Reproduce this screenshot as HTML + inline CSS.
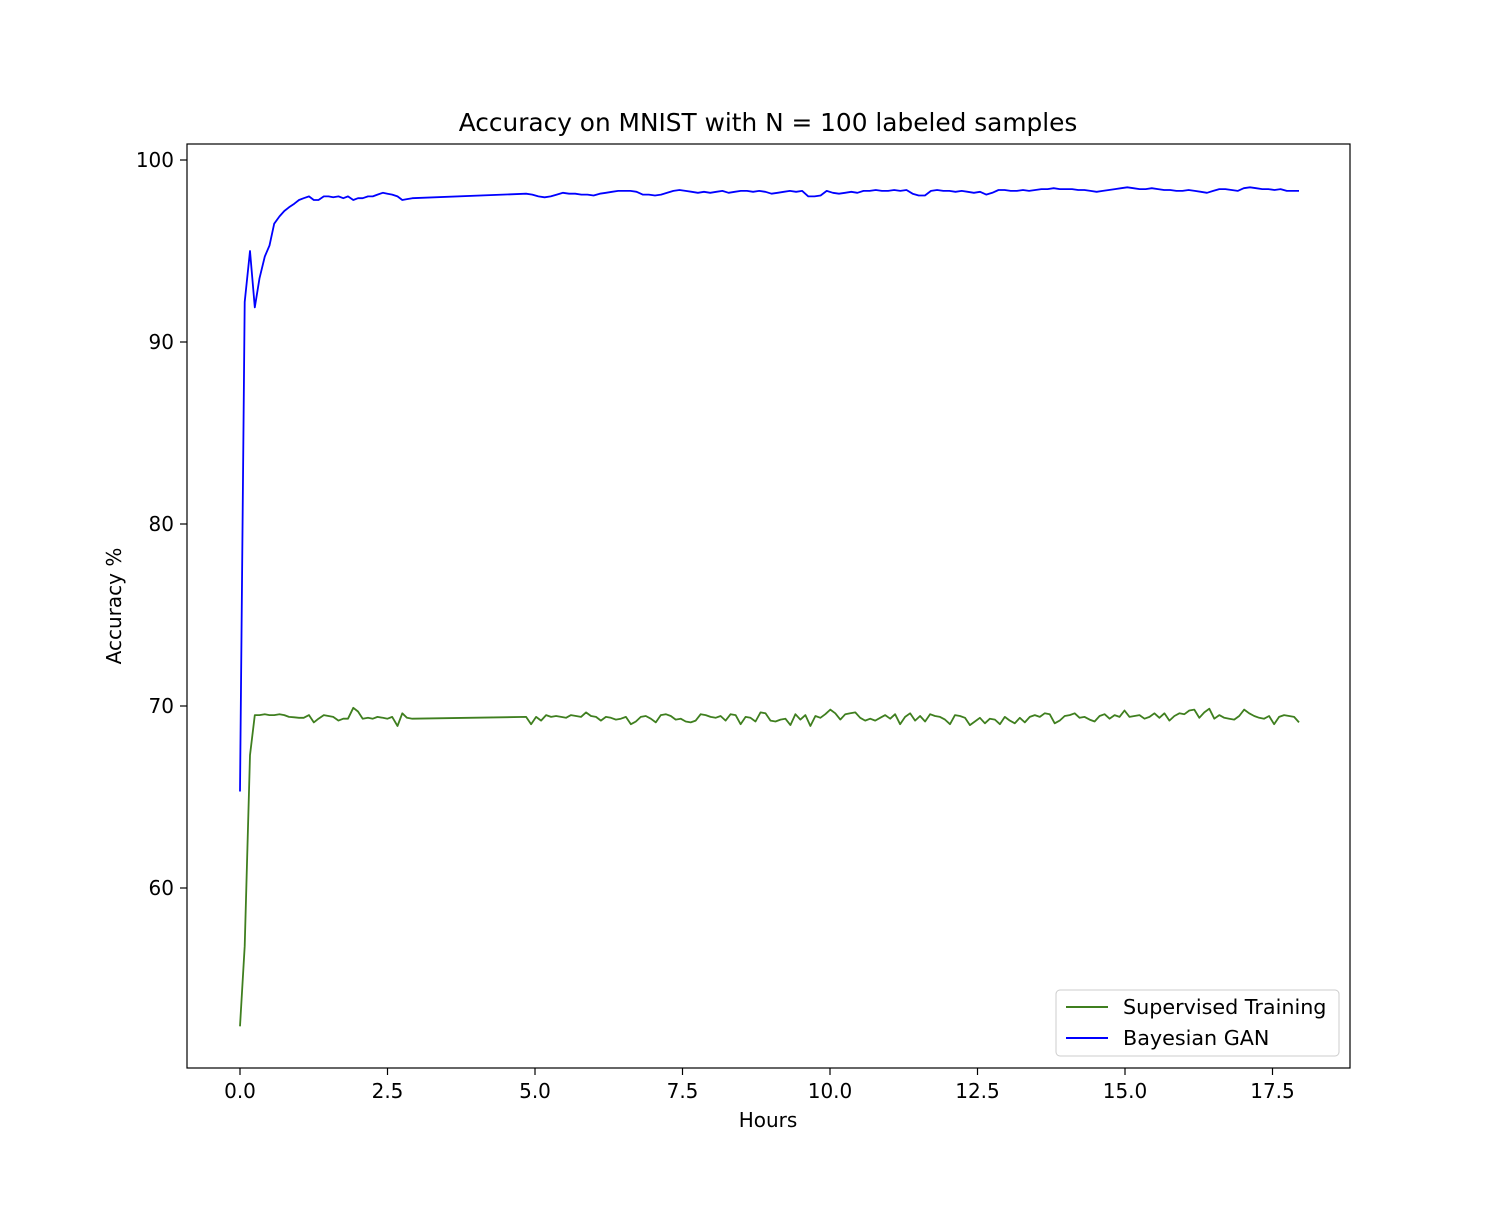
<!DOCTYPE html>
<html><head><meta charset="utf-8"><style>
body{margin:0;background:#fff}
svg text{font-family:"DejaVu Sans","Liberation Sans",sans-serif;fill:#000}
</style></head><body>
<svg id="chart" width="1500" height="1200" xmlns="http://www.w3.org/2000/svg">
<rect width="1500" height="1200" fill="#fff"/>
<text x="768" y="131" font-size="24.8" text-anchor="middle">Accuracy on MNIST with N = 100 labeled samples</text>
<g id="xt"></g>
<g id="yt"></g>
<text x="768" y="1127" font-size="20" text-anchor="middle">Hours</text>
<text transform="translate(121,606) rotate(-90)" font-size="20" text-anchor="middle">Accuracy %</text>
<g id="series"></g>
<rect x="187" y="144" width="1163" height="924" fill="none" stroke="#000" stroke-width="1.2"/>
<g>
<rect x="1056" y="990" width="283" height="66" rx="4" fill="#fff" fill-opacity="0.8" stroke="#ccc"/>
<line x1="1066" x2="1108" y1="1007" y2="1007" stroke="#3f7f1f" stroke-width="2"/>
<text x="1123" y="1014" font-size="20.7">Supervised Training</text>
<line x1="1066" x2="1108" y1="1038" y2="1038" stroke="#0000ff" stroke-width="2"/>
<text x="1123" y="1045" font-size="20.7">Bayesian GAN</text>
</g>
</svg>
<script>
const xTicks=[0,2.5,5,7.5,10,12.5,15,17.5];
const xTickLabels=["0.0","2.5","5.0","7.5","10.0","12.5","15.0","17.5"];
const yTicks=[60,70,80,90,100];
const yTickLabels=["60","70","80","90","100"];
const earlyHours=[0,0.08,0.17,0.25,0.33,0.42,0.5,0.58,0.67,0.75,0.83,0.92,1.0,1.08,1.17,1.25,1.33,1.42,1.5,1.58,1.67,1.75,1.83,1.92,2.0,2.08,2.17,2.25,2.33,2.42,2.5,2.58,2.67,2.75,2.83,2.92];
const ganEarly=[65.3,92.2,95.0,91.9,93.5,94.7,95.3,96.5,96.9,97.2,97.4,97.6,97.8,97.9,98.0,97.8,97.8,98.0,98.0,97.95,98.0,97.9,98.0,97.8,97.9,97.9,98.0,98.0,98.1,98.2,98.15,98.1,98.0,97.8,97.85,97.9];
const supEarly=[52.4,56.8,67.3,69.5,69.5,69.55,69.5,69.5,69.55,69.5,69.4,69.38,69.35,69.35,69.5,69.1,69.3,69.5,69.45,69.4,69.2,69.3,69.3,69.9,69.7,69.3,69.35,69.3,69.4,69.35,69.3,69.4,68.9,69.6,69.35,69.3];
const lateStart=4.85, lateEnd=17.95;
const ganLate=[98.15,98.1,98.0,97.95,98.0,98.1,98.2,98.15,98.15,98.1,98.1,98.05,98.15,98.2,98.25,98.3,98.3,98.3,98.25,98.1,98.1,98.05,98.1,98.2,98.3,98.35,98.3,98.25,98.2,98.25,98.2,98.25,98.3,98.2,98.25,98.3,98.3,98.25,98.3,98.25,98.15,98.2,98.25,98.3,98.25,98.3,98.0,98.0,98.05,98.3,98.2,98.15,98.2,98.25,98.2,98.3,98.3,98.35,98.3,98.3,98.35,98.3,98.35,98.15,98.05,98.05,98.3,98.35,98.3,98.3,98.25,98.3,98.25,98.2,98.25,98.1,98.2,98.35,98.35,98.3,98.3,98.35,98.3,98.35,98.4,98.4,98.45,98.4,98.4,98.4,98.35,98.35,98.3,98.25,98.3,98.35,98.4,98.45,98.5,98.45,98.4,98.4,98.45,98.4,98.35,98.35,98.3,98.3,98.35,98.3,98.25,98.2,98.3,98.4,98.4,98.35,98.3,98.45,98.5,98.45,98.4,98.4,98.35,98.4,98.3,98.3,98.3];
const supLate=[69.4,69.0,69.4,69.2,69.5,69.4,69.45,69.4,69.35,69.5,69.45,69.4,69.65,69.45,69.4,69.2,69.4,69.35,69.25,69.3,69.4,69.0,69.15,69.4,69.45,69.3,69.1,69.5,69.55,69.45,69.25,69.3,69.15,69.1,69.2,69.55,69.5,69.4,69.35,69.45,69.2,69.55,69.5,69.0,69.4,69.35,69.15,69.65,69.6,69.2,69.15,69.25,69.3,68.95,69.55,69.25,69.5,68.9,69.45,69.35,69.55,69.8,69.6,69.25,69.55,69.6,69.65,69.35,69.2,69.3,69.2,69.35,69.5,69.3,69.55,69.0,69.4,69.6,69.2,69.45,69.15,69.55,69.45,69.4,69.25,69.0,69.5,69.45,69.35,68.95,69.15,69.35,69.05,69.3,69.25,69.0,69.4,69.2,69.05,69.35,69.1,69.4,69.5,69.4,69.6,69.55,69.05,69.2,69.45,69.5,69.6,69.35,69.4,69.25,69.15,69.45,69.55,69.3,69.5,69.4,69.75,69.4,69.45,69.5,69.3,69.4,69.6,69.35,69.6,69.2,69.45,69.6,69.55,69.75,69.8,69.35,69.65,69.85,69.3,69.5,69.35,69.3,69.25,69.45,69.8,69.6,69.45,69.35,69.3,69.45,69.0,69.4,69.5,69.45,69.4,69.1];

const NS='http://www.w3.org/2000/svg';
const sx=h=>240+h*59;
const sy=v=>160+(100-v)*18.2;
function mk(tag,attrs,parent){const e=document.createElementNS(NS,tag);for(const k in attrs)e.setAttribute(k,attrs[k]);parent.appendChild(e);return e;}
const xt=document.getElementById('xt'), yt=document.getElementById('yt'), sg=document.getElementById('series');
xTicks.forEach((t,i)=>{
  const l=mk('line',{x1:sx(t),x2:sx(t),y1:1068,y2:1075,stroke:'#000','stroke-width':1.2},xt);
  
  
  const tx=mk('text',{x:sx(t),y:1098,'font-size':20,'text-anchor':'middle'},xt);
  tx.textContent=xTickLabels[i];
  
  
});
yTicks.forEach((t,i)=>{
  const l=mk('line',{x1:180,x2:187,y1:sy(t),y2:sy(t),stroke:'#000','stroke-width':1.2},yt);
  
  
  const tx=mk('text',{x:174,y:sy(t)+7,'font-size':20,'text-anchor':'end'},yt);
  tx.textContent=yTickLabels[i];
  
  
});
function lateHours(n){const a=[];for(let i=0;i<n;i++)a.push(lateStart+i*(lateEnd-lateStart)/(n-1));return a;}
function drawSeries(early,late,color,name){
  const hs=earlyHours.concat(lateHours(late.length));
  const vs=early.concat(late);
  const pts=hs.map((h,i)=>sx(h).toFixed(1)+','+sy(vs[i]).toFixed(1)).join(' ');
  const p=mk('polyline',{points:pts,fill:'none',stroke:color,'stroke-width':1.8,'stroke-linejoin':'round'},sg);
  
  
}
drawSeries(supEarly,supLate,'#3f7f1f','supervised-training-line');
drawSeries(ganEarly,ganLate,'#0000ff','bayesian-gan-line');
</script>
</body></html>
